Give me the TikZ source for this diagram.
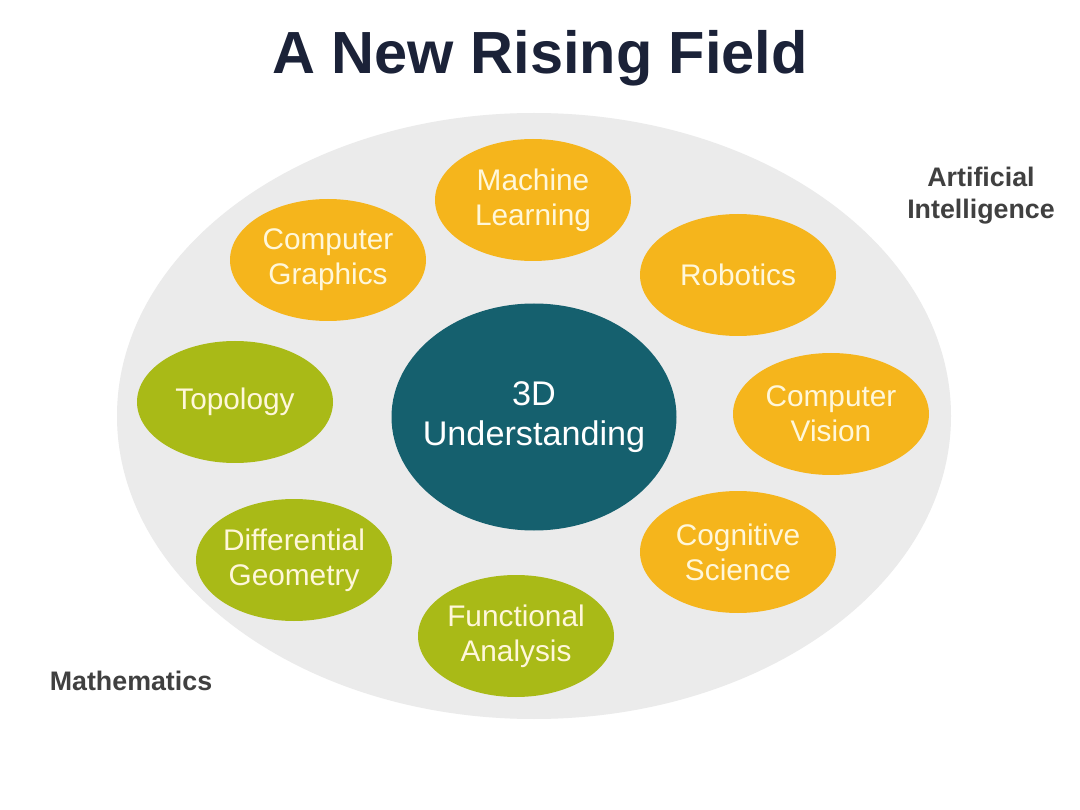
\documentclass[tikz,border=0pt]{standalone}
\usepackage{fontspec}
\setmainfont{Liberation Sans}
\usetikzlibrary{shapes.geometric}
\definecolor{bgrey}{HTML}{EBEBEB}
\definecolor{amber}{HTML}{F5B51C}
\definecolor{olive}{HTML}{A9BA17}
\definecolor{teal3d}{HTML}{15606E}
\definecolor{navy}{HTML}{1B2238}
\definecolor{lblgrey}{HTML}{404040}
\definecolor{cream}{HTML}{FFF7DA}
\tikzset{
  field/.style={ellipse, inner xsep=-10pt, inner ysep=0pt, minimum width=196pt, minimum height=122pt,
    text=cream, align=center, font=\fontsize{29.8}{35}\selectfont},
  aifield/.style={field, fill=amber},
  mathfield/.style={field, fill=olive},
  core/.style={ellipse, inner xsep=-25pt, inner ysep=0pt, minimum width=285pt, minimum height=227pt,
    fill=teal3d, text=white, align=center, font=\fontsize{34.2}{40}\selectfont},
  region/.style={text=lblgrey, align=center, font=\bfseries\fontsize{26.8}{32}\selectfont},
}
\begin{document}
\begin{tikzpicture}[x=1pt,y=-1pt]
\useasboundingbox[fill=white] (0,0) rectangle (1080,810);
\fill[bgrey] (534,416) ellipse [x radius=417pt, y radius=303pt];
\node[font=\bfseries\fontsize{59.5}{64}\selectfont, text=navy] (title) at (540,58) {A New Rising Field};
\node[core] (core) at (534,417) {3D\\Understanding};
\node[aifield] (ml) at (533,200) {Machine\\Learning};
\node[aifield] (cg) at (328,260) {Computer\\Graphics};
\node[aifield] (rob) at (738,275) {Robotics};
\node[aifield] (cv) at (831,414) {Computer\\Vision};
\node[aifield] (cs) at (738,552) {Cognitive\\Science};
\node[mathfield] (top) at (235,402) {Topology};
\node[mathfield] (dg) at (294,560) {Differential\\Geometry};
\node[mathfield] (fa) at (516,636) {Functional\\Analysis};
\node[region] (ai) at (981,196) {Artificial\\Intelligence};
\node[region] (math) at (131,681) {Mathematics};
\end{tikzpicture}
\end{document}
